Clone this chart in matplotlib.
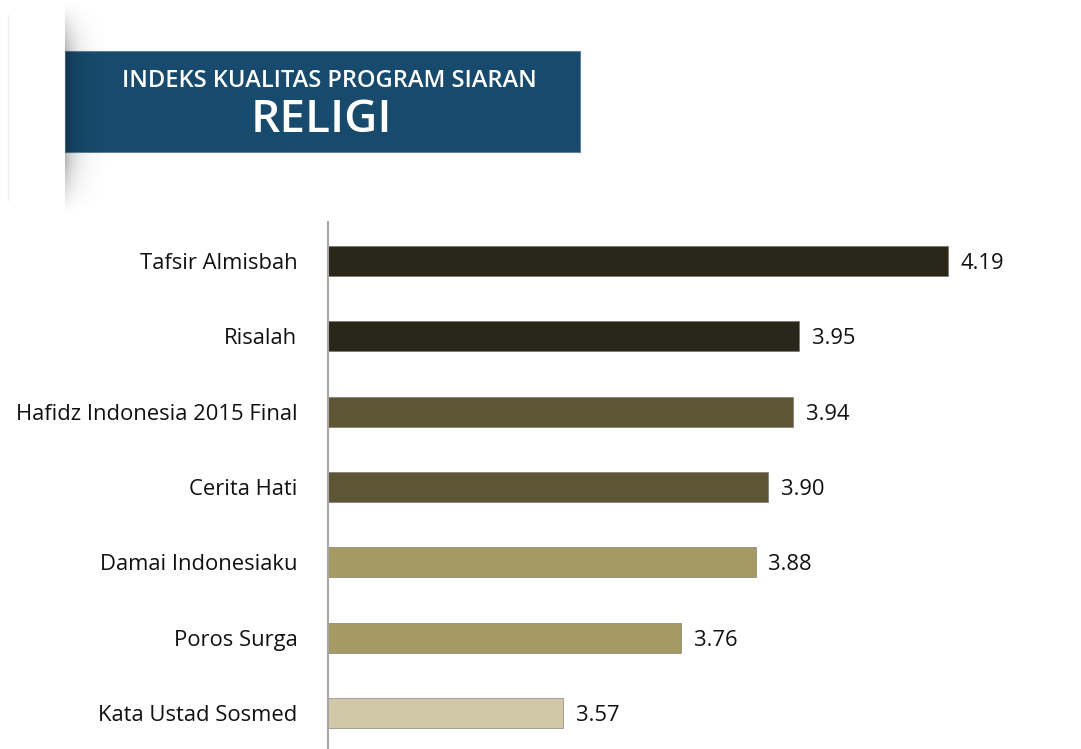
import numpy as np
import matplotlib
matplotlib.use("Agg")
import matplotlib.pyplot as plt
from matplotlib.patches import Rectangle

# data
programs = ["Tafsir Almisbah", "Risalah", "Hafidz Indonesia 2015 Final", "Cerita Hati",
            "Damai Indonesiaku", "Poros Surga", "Kata Ustad Sosmed"]
scores = [4.19, 3.95, 3.94, 3.90, 3.88, 3.76, 3.57]
bar_colors = ["#29261a", "#29261a", "#5e5535", "#5e5535", "#a59964", "#a59964", "#d1c8a8"]
title_small = "INDEKS KUALITAS PROGRAM SIARAN"
title_big = "RELIGI"

W, H = 1081, 749
fig = plt.figure(figsize=(W / 100, H / 100), dpi=100)
fig.patch.set_facecolor("white")

# background layer in pixel coords for the header
bg = fig.add_axes([0, 0, 1, 1])
bg.set_xlim(0, W)
bg.set_ylim(H, 0)
bg.axis("off")

# faint vertical line at far left
bg.plot([7.5, 7.5], [15, 200], color="#f0f0f0", lw=1)

# shadow behind the banner's left edge
xs = np.arange(0, 40)
ys = np.arange(0, 215)
horiz = np.exp(-xs / 11.0)
vert = np.clip(np.minimum((ys - 3) / 45.0, (212 - ys) / 50.0), 0, 1)
alpha = np.outer(vert, horiz) * 0.28
shadow = np.zeros((len(ys), len(xs), 4))
shadow[..., 3] = alpha
bg.imshow(shadow, extent=(65, 105, 215, 0), aspect="auto", zorder=1, interpolation="bilinear")

bg.add_patch(Rectangle((65, 51), 515, 101, facecolor="#174a6c", edgecolor="#5d83a0",
                       lw=0.8, zorder=0.5))
bg.text(329, 81, title_small, color="white", fontsize=17, family="Open Sans",
        weight="semibold", ha="center", va="center", zorder=3)
bg.text(321, 121, title_big, color="white", fontsize=33, family="Open Sans",
        weight="semibold", ha="center", va="center", zorder=3)

# bar chart
ax = fig.add_axes([328 / W, 0, 1 - 328 / W, 1 - 222 / H])
y = np.arange(len(programs))
ax.barh(y, scores, height=0.4, color=bar_colors, edgecolor="#6f6e62", linewidth=0.4)
ax.set_xlim(3.191, 3.191 + (W - 328) / 621.0)
ax.set_ylim(len(programs) - 0.52, -0.52)
ax.set_yticks(y)
ax.set_yticklabels(programs, family="Open Sans", fontsize=15.8, color="#111111",
                   va="center_baseline")
ax.tick_params(axis="y", length=0, pad=22)
ax.set_xticks([])
for s in ["top", "right", "bottom"]:
    ax.spines[s].set_visible(False)
ax.spines["left"].set_color("#a6a6a6")
ax.spines["left"].set_linewidth(1.5)
ax.patch.set_alpha(0)

for yi, v in zip(y, scores):
    ax.annotate(f"{v:.2f}", (v, yi), xytext=(9, 0), textcoords="offset points",
                ha="left", va="center_baseline", family="Open Sans", fontsize=15.8,
                color="#111111")

fig.savefig("out.png", dpi=100)
